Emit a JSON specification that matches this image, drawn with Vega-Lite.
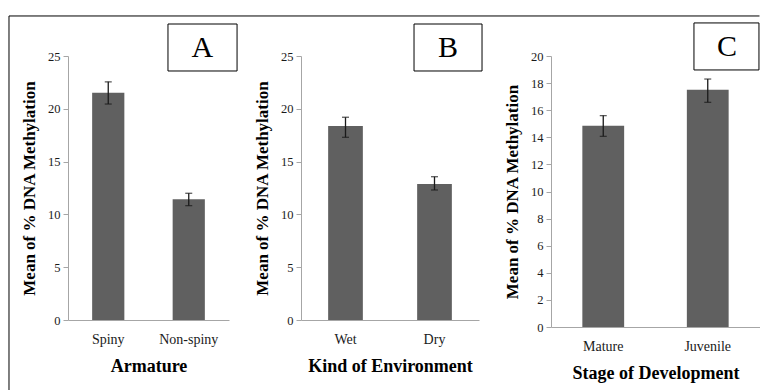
{
  "$schema": "https://vega.github.io/schema/vega-lite/v6.json",
  "padding": {"left": 8, "top": 15, "right": 0, "bottom": 0},
  "spacing": 72,
  "bounds": "flush",
  "background": "white",
  "config": {
    "font": "Liberation Serif",
    "view": {"stroke": null},
    "axis": {
      "labelFont": "Liberation Serif",
      "titleFont": "Liberation Serif",
      "domainColor": "#a6a6a6",
      "tickColor": "#a6a6a6",
      "labelColor": "#1a1a1a",
      "titleColor": "#000000",
      "titleFontWeight": "bold",
      "grid": false,
      "labelOverlap": false
    },
    "axisY": {"labelFont": "Liberation Serif", "tickSize": 5, "labelPadding": 3, "labelFontSize": 12.5, "titleFontSize": 17, "titlePadding": 9, "tickCount": 12},
    "axisX": {"labelFont": "Liberation Serif", "ticks": false, "labelPadding": 12, "labelFontSize": 14, "titleFontSize": 18, "titlePadding": 11, "labelAngle": 0}
  },
  "hconcat": [
    {
      "width": 161,
      "height": 264,
      "data": {"values": [
        {"cat": "Spiny", "mean": 21.52, "lo": 20.45, "hi": 22.55},
        {"cat": "Non-spiny", "mean": 11.43, "lo": 10.83, "hi": 12.0}
      ]},
      "resolve": {"scale": {"x": "independent"}},
      "layer": [
        {
          "layer": [
            {
              "mark": {"type": "bar", "color": "#606060"},
              "encoding": {
                "x": {"field": "cat", "type": "nominal", "sort": null, "scale": {"paddingInner": 0.6, "paddingOuter": 0.3}, "axis": {"title": "Armature"}},
                "y": {"field": "mean", "type": "quantitative", "scale": {"domain": [0, 25], "nice": false}, "axis": {"title": "Mean of % DNA Methylation", "values": [0, 5, 10, 15, 20, 25], "tickCount": 12}}
              }
            },
            {
              "mark": {"type": "rule", "color": "#1a1a1a", "strokeWidth": 1.3},
              "encoding": {
                "x": {"field": "cat", "type": "nominal", "sort": null},
                "y": {"field": "lo", "type": "quantitative", "axis": {"title": "Mean of % DNA Methylation", "values": [0, 5, 10, 15, 20, 25], "tickCount": 12}},
                "y2": {"field": "hi"}
              }
            },
            {
              "mark": {"type": "tick", "color": "#1a1a1a", "size": 7, "thickness": 1.3},
              "encoding": {
                "x": {"field": "cat", "type": "nominal", "sort": null},
                "y": {"field": "lo", "type": "quantitative", "axis": {"title": "Mean of % DNA Methylation", "values": [0, 5, 10, 15, 20, 25], "tickCount": 12}}
              }
            },
            {
              "mark": {"type": "tick", "color": "#1a1a1a", "size": 7, "thickness": 1.3},
              "encoding": {
                "x": {"field": "cat", "type": "nominal", "sort": null},
                "y": {"field": "hi", "type": "quantitative", "axis": {"title": "Mean of % DNA Methylation", "values": [0, 5, 10, 15, 20, 25], "tickCount": 12}}
              }
            }
          ]
        },
        {
          "data": {"values": [{"label": "A"}]},
          "layer": [
            {
              "mark": {"type": "rect", "fill": "white", "stroke": "black", "strokeWidth": 1},
              "encoding": {
                "x": {"datum": 0.621, "type": "quantitative", "scale": {"domain": [0, 1]}, "axis": null},
                "x2": {"datum": 1.05},
                "y": {"datum": 28.03, "type": "quantitative", "axis": {"title": "Mean of % DNA Methylation", "values": [0, 5, 10, 15, 20, 25], "tickCount": 12}},
                "y2": {"datum": 23.58}
              }
            },
            {
              "mark": {"type": "text", "font": "Liberation Serif", "fontSize": 30, "align": "center", "baseline": "middle", "color": "black"},
              "encoding": {
                "x": {"datum": 0.835, "type": "quantitative"},
                "y": {"datum": 25.8, "type": "quantitative"},
                "text": {"field": "label"}
              }
            },
            {
              "mark": {"type": "rule", "color": "black", "strokeWidth": 1},
              "encoding": {
                "x": {"datum": -0.3665, "type": "quantitative"},
                "y": {"datum": 28.79, "type": "quantitative"},
                "y2": {"datum": -6.63}
              }
            },
            {
              "mark": {"type": "rule", "color": "black", "strokeWidth": 1},
              "encoding": {
                "x": {"datum": -0.3665, "type": "quantitative"},
                "x2": {"datum": 4.295},
                "y": {"datum": 28.79, "type": "quantitative"}
              }
            }
          ]
        }
      ]
    },
    {
      "width": 178,
      "height": 264,
      "data": {"values": [
        {"cat": "Wet", "mean": 18.37, "lo": 17.3, "hi": 19.2},
        {"cat": "Dry", "mean": 12.88, "lo": 12.31, "hi": 13.57}
      ]},
      "resolve": {"scale": {"x": "independent"}},
      "layer": [
        {
          "layer": [
            {
              "mark": {"type": "bar", "color": "#606060"},
              "encoding": {
                "x": {"field": "cat", "type": "nominal", "sort": null, "scale": {"paddingInner": 0.61, "paddingOuter": 0.305}, "axis": {"title": "Kind of Environment"}},
                "y": {"field": "mean", "type": "quantitative", "scale": {"domain": [0, 25], "nice": false}, "axis": {"title": "Mean of % DNA Methylation", "values": [0, 5, 10, 15, 20, 25], "tickCount": 12}}
              }
            },
            {
              "mark": {"type": "rule", "color": "#1a1a1a", "strokeWidth": 1.3},
              "encoding": {
                "x": {"field": "cat", "type": "nominal", "sort": null},
                "y": {"field": "lo", "type": "quantitative", "axis": {"title": "Mean of % DNA Methylation", "values": [0, 5, 10, 15, 20, 25], "tickCount": 12}},
                "y2": {"field": "hi"}
              }
            },
            {
              "mark": {"type": "tick", "color": "#1a1a1a", "size": 7, "thickness": 1.3},
              "encoding": {
                "x": {"field": "cat", "type": "nominal", "sort": null},
                "y": {"field": "lo", "type": "quantitative", "axis": {"title": "Mean of % DNA Methylation", "values": [0, 5, 10, 15, 20, 25], "tickCount": 12}}
              }
            },
            {
              "mark": {"type": "tick", "color": "#1a1a1a", "size": 7, "thickness": 1.3},
              "encoding": {
                "x": {"field": "cat", "type": "nominal", "sort": null},
                "y": {"field": "hi", "type": "quantitative", "axis": {"title": "Mean of % DNA Methylation", "values": [0, 5, 10, 15, 20, 25], "tickCount": 12}}
              }
            }
          ]
        },
        {
          "data": {"values": [{"label": "B"}]},
          "layer": [
            {
              "mark": {"type": "rect", "fill": "white", "stroke": "black", "strokeWidth": 1},
              "encoding": {
                "x": {"datum": 0.635, "type": "quantitative", "scale": {"domain": [0, 1]}, "axis": null},
                "x2": {"datum": 1.017},
                "y": {"datum": 28.03, "type": "quantitative", "axis": {"title": "Mean of % DNA Methylation", "values": [0, 5, 10, 15, 20, 25], "tickCount": 12}},
                "y2": {"datum": 23.58}
              }
            },
            {
              "mark": {"type": "text", "font": "Liberation Serif", "fontSize": 30, "align": "center", "baseline": "middle", "color": "black"},
              "encoding": {
                "x": {"datum": 0.826, "type": "quantitative"},
                "y": {"datum": 25.8, "type": "quantitative"},
                "text": {"field": "label"}
              }
            }
          ]
        }
      ]
    },
    {
      "width": 209,
      "height": 271,
      "data": {"values": [
        {"cat": "Mature", "mean": 14.86, "lo": 14.07, "hi": 15.6},
        {"cat": "Juvenile", "mean": 17.51, "lo": 16.58, "hi": 18.3}
      ]},
      "resolve": {"scale": {"x": "independent"}},
      "layer": [
        {
          "layer": [
            {
              "mark": {"type": "bar", "color": "#606060"},
              "encoding": {
                "x": {"field": "cat", "type": "nominal", "sort": null, "scale": {"paddingInner": 0.6, "paddingOuter": 0.3}, "axis": {"title": "Stage of Development"}},
                "y": {"field": "mean", "type": "quantitative", "scale": {"domain": [0, 20], "nice": false}, "axis": {"title": "Mean of % DNA Methylation", "values": [0, 2, 4, 6, 8, 10, 12, 14, 16, 18, 20], "tickCount": 12}}
              }
            },
            {
              "mark": {"type": "rule", "color": "#1a1a1a", "strokeWidth": 1.3},
              "encoding": {
                "x": {"field": "cat", "type": "nominal", "sort": null},
                "y": {"field": "lo", "type": "quantitative", "axis": {"title": "Mean of % DNA Methylation", "values": [0, 2, 4, 6, 8, 10, 12, 14, 16, 18, 20], "tickCount": 12}},
                "y2": {"field": "hi"}
              }
            },
            {
              "mark": {"type": "tick", "color": "#1a1a1a", "size": 7, "thickness": 1.3},
              "encoding": {
                "x": {"field": "cat", "type": "nominal", "sort": null},
                "y": {"field": "lo", "type": "quantitative", "axis": {"title": "Mean of % DNA Methylation", "values": [0, 2, 4, 6, 8, 10, 12, 14, 16, 18, 20], "tickCount": 12}}
              }
            },
            {
              "mark": {"type": "tick", "color": "#1a1a1a", "size": 7, "thickness": 1.3},
              "encoding": {
                "x": {"field": "cat", "type": "nominal", "sort": null},
                "y": {"field": "hi", "type": "quantitative", "axis": {"title": "Mean of % DNA Methylation", "values": [0, 2, 4, 6, 8, 10, 12, 14, 16, 18, 20], "tickCount": 12}}
              }
            }
          ]
        },
        {
          "data": {"values": [{"label": "C"}]},
          "layer": [
            {
              "mark": {"type": "rect", "fill": "white", "stroke": "black", "strokeWidth": 1},
              "encoding": {
                "x": {"datum": 0.684, "type": "quantitative", "scale": {"domain": [0, 1]}, "axis": null},
                "x2": {"datum": 0.995},
                "y": {"datum": 22.44, "type": "quantitative", "axis": {"title": "Mean of % DNA Methylation", "values": [0, 2, 4, 6, 8, 10, 12, 14, 16, 18, 20], "tickCount": 12}},
                "y2": {"datum": 18.97}
              }
            },
            {
              "mark": {"type": "text", "font": "Liberation Serif", "fontSize": 30, "align": "center", "baseline": "middle", "color": "black"},
              "encoding": {
                "x": {"datum": 0.842, "type": "quantitative"},
                "y": {"datum": 20.7, "type": "quantitative"},
                "text": {"field": "label"}
              }
            }
          ]
        }
      ]
    }
  ]
}
